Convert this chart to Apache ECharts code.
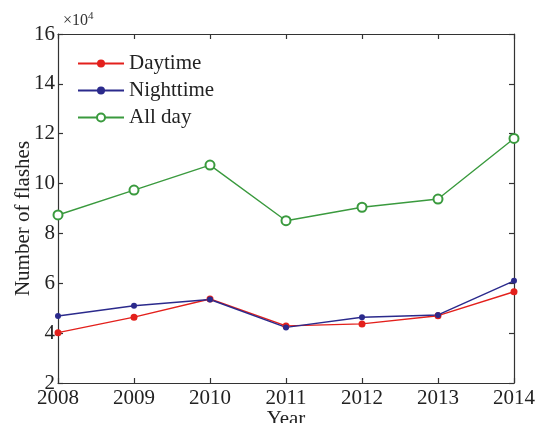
<!DOCTYPE html>
<html><head><meta charset="utf-8">
<script src="https://cdn.jsdelivr.net/npm/echarts@6/dist/echarts.min.js"></script>
<style>html,body{margin:0;padding:0;background:#fff}#c{width:535px;height:423px}</style>
</head><body><div id="c"></div>
<script>
const years = ['2008','2009','2010','2011','2012','2013','2014'];
const daytime = [40200, 46400, 53700, 42900, 43700, 47000, 56600];
const nighttime = [46900, 51000, 53500, 42300, 46400, 47300, 61000];
const allDay = [87400, 97400, 107400, 85100, 90500, 93800, 118100];

const font = 'Liberation Serif';
const chart = echarts.init(document.getElementById('c'));
const axisLine = {show: true, lineStyle: {color: '#333', width: 1.2}};
const tick = {show: true, inside: true, length: 5, lineStyle: {color: '#333', width: 1.2}};
chart.setOption({
  animation: false,
  textStyle: {fontFamily: font},
  grid: {left: 58, right: 21, top: 34, bottom: 40, outerBoundsMode: 'none', containLabel: false},
  title: {
    text: '{a|×10}{b|4}', left: 58, top: 6,
    textStyle: {fontWeight: 'normal', rich: {a: {fontFamily: font, fontSize: 16, color: '#333', fontWeight: 'normal'}, b: {fontFamily: font, fontSize: 11, color: '#333', fontWeight: 'normal', verticalAlign: 'top', padding: [0,0,8,0]}}}
  },
  legend: {
    left: 72, top: 48, orient: 'vertical', itemGap: 6, itemWidth: 46, itemHeight: 10,
    textStyle: {fontFamily: font, fontSize: 21, color: '#222'},
    data: ['Daytime', 'Nighttime', 'All day']
  },
  xAxis: [{
    type: 'category', data: years, boundaryGap: false,
    axisLine: axisLine, axisTick: tick,
    axisLabel: {fontFamily: font, fontSize: 21, color: '#222', margin: 5},
    name: 'Year', nameLocation: 'middle', nameGap: 26, nameMoveOverlap: false,
    nameTextStyle: {fontFamily: font, fontSize: 21, color: '#222'},
    splitLine: {show: false}
  }, {
    type: 'category', data: years, boundaryGap: false, position: 'top',
    axisLine: axisLine, axisTick: tick,
    axisLabel: {show: false}, splitLine: {show: false}
  }],
  yAxis: [{
    type: 'value', min: 20000, max: 160000, interval: 20000,
    axisLine: axisLine, axisTick: tick,
    axisLabel: {fontFamily: font, fontSize: 21, color: '#222', margin: 3, formatter: v => String(v / 10000)},
    name: 'Number of flashes', nameLocation: 'middle', nameGap: 24, nameRotate: 90, nameMoveOverlap: false,
    nameTextStyle: {fontFamily: font, fontSize: 21, color: '#222', padding: [0, 20, 0, 0]},
    splitLine: {show: false}
  }, {
    type: 'value', min: 20000, max: 160000, interval: 20000, position: 'right',
    axisLine: axisLine, axisTick: tick,
    axisLabel: {show: false}, splitLine: {show: false}
  }],
  series: [{
    name: 'Daytime', type: 'line', data: daytime, color: '#e3201c',
    symbol: 'circle', symbolSize: 7, showAllSymbol: true,
    lineStyle: {width: 1.4}, itemStyle: {color: '#e3201c'}
  }, {
    name: 'Nighttime', type: 'line', data: nighttime, color: '#2b2a8c',
    symbol: 'circle', symbolSize: 6, showAllSymbol: true,
    lineStyle: {width: 1.4}, itemStyle: {color: '#2b2a8c'}
  }, {
    name: 'All day', type: 'line', data: allDay, color: '#3a9a3e',
    symbol: 'emptyCircle', symbolSize: 9, showAllSymbol: true,
    lineStyle: {width: 1.4}, itemStyle: {color: '#3a9a3e', borderWidth: 1.3}
  }]
});
</script></body></html>
